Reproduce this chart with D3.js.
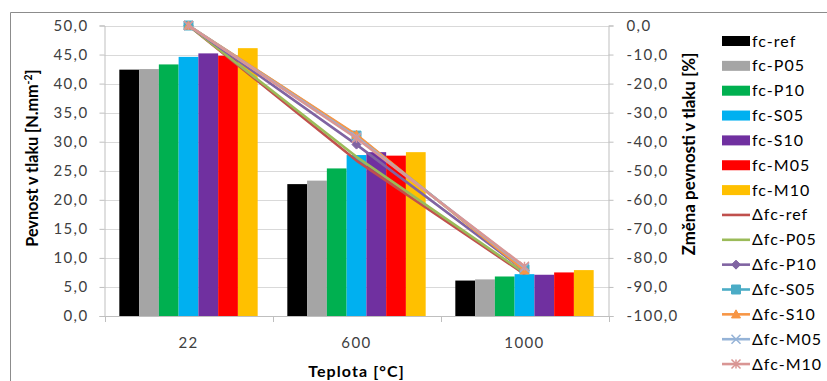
<!DOCTYPE html>
<html>
<head>
<meta charset="utf-8">
<script src="https://cdn.jsdelivr.net/npm/d3@7"></script>
<style>
  html, body { margin: 0; padding: 0; background: #fff; }
  svg { display: block; font-family: Lato, "Open Sans", sans-serif; }
</style>
</head>
<body>
<svg id="chart" width="827" height="381"></svg>
<script>
// Temperatures (categories)
const temperatures = ["22", "600", "1000"];

// Compressive strength [N.mm-2] per mix
const barSeries = ["fc-ref", "fc-P05", "fc-P10", "fc-S05", "fc-S10", "fc-M05", "fc-M10"];
const fcRef = [42.4, 22.7, 6.1];
const fcP05 = [42.5, 23.3, 6.3];
const fcP10 = [43.3, 25.4, 6.8];
const fcS05 = [44.6, 27.7, 7.2];
const fcS10 = [45.2, 28.2, 7.1];
const fcM05 = [44.8, 27.6, 7.5];
const fcM10 = [46.1, 28.2, 7.9];

// Change of compressive strength [%]
const lineSeries = ["Δfc-ref", "Δfc-P05", "Δfc-P10", "Δfc-S05", "Δfc-S10", "Δfc-M05", "Δfc-M10"];
const dRef = [0, -46.5, -85.6];
const dP05 = [0, -45.2, -85.2];
const dP10 = [0, -41.0, -84.3];
const dS05 = [0, -37.9, -83.9];
const dS10 = [0, -37.6, -84.3];
const dM05 = [0, -38.4, -83.3];
const dM10 = [0, -38.8, -82.9];

// Axis ticks
const leftTicks = [0, 5, 10, 15, 20, 25, 30, 35, 40, 45, 50];
const rightTicks = [0, -10, -20, -30, -40, -50, -60, -70, -80, -90, -100];

const barValues = [fcRef, fcP05, fcP10, fcS05, fcS10, fcM05, fcM10];
const lineValues = [dRef, dP05, dP10, dS05, dS10, dM05, dM10];
const barColors = ["#000000", "#A5A5A5", "#00B050", "#00B0F0", "#7030A0", "#FF0000", "#FFC000"];
const lineColors = ["#C0504D", "#9BBB59", "#8064A2", "#4BACC6", "#F79646", "#95B3D7", "#D99694"];
const markers = [null, null, "diamond", "square", "triangle", "x", "star"];

const svg = d3.select("#chart");
const plot = { left: 104.5, right: 608.5, top: 25.5, bottom: 316 };

const x = d3.scaleBand().domain(temperatures).range([plot.left, plot.right]).padding(0);
const xi = d3.scaleBand().domain(barSeries).range([0, x.bandwidth()]).paddingInner(0).paddingOuter(0.75);
const yL = d3.scaleLinear().domain([0, 50]).range([plot.bottom, plot.top]);
const yR = d3.scaleLinear().domain([-100, 0]).range([plot.bottom, plot.top]);
const fmt = d => d.toFixed(1).replace(".", ",");

// Outer chart frame
svg.append("path")
  .attr("d", `M10.5,381 V12.5 H827`)
  .attr("fill", "none").attr("stroke", "#8C8C8C").attr("stroke-width", 1);

// Gridlines
svg.append("g").selectAll("line").data(leftTicks).join("line")
  .attr("x1", plot.left).attr("x2", plot.right)
  .attr("y1", d => Math.round(yL(d)) + 0.5).attr("y2", d => Math.round(yL(d)) + 0.5)
  .attr("stroke", "#D9D9D9").attr("stroke-width", 1);

// Left axis
const gL = svg.append("g").attr("transform", `translate(${plot.left},0)`)
  .call(d3.axisLeft(yL).tickValues(leftTicks).tickFormat(fmt).tickSize(5).tickPadding(11));
// Right axis
const gR = svg.append("g").attr("transform", `translate(${plot.right},0)`)
  .call(d3.axisRight(yR).tickValues(rightTicks).tickFormat(fmt).tickSize(5).tickPadding(13));
[gL, gR].forEach(g => {
  g.select(".domain").attr("stroke", "#BFBFBF");
  g.selectAll(".tick line").attr("stroke", "#BFBFBF");
  g.selectAll(".tick text").attr("fill", "#404040").attr("font-size", 15)
    .attr("letter-spacing", 1.4).attr("font-family", "Lato, sans-serif");
});

// Bars
const groups = svg.append("g").selectAll("g").data(temperatures).join("g")
  .attr("transform", d => `translate(${x(d)},0)`);
groups.selectAll("rect")
  .data((t, ti) => barSeries.map((s, si) => ({ s, si, v: barValues[si][ti] })))
  .join("rect")
  .attr("x", d => xi(d.s)).attr("width", xi.bandwidth())
  .attr("y", d => yL(d.v)).attr("height", d => yL(0) - yL(d.v))
  .attr("fill", d => barColors[d.si]);

// Bottom axis
const gB = svg.append("g").attr("transform", `translate(0,${plot.bottom})`)
  .call(d3.axisBottom(x).tickSize(0).tickPadding(21));
gB.select(".domain").attr("stroke", "#BFBFBF");
gB.selectAll(".tick text").attr("fill", "#404040").attr("font-size", 15)
  .attr("letter-spacing", 1.4).attr("font-family", "Lato, sans-serif");
svg.append("g").selectAll("line").data([plot.left, x("600"), x("1000"), plot.right]).join("line")
  .attr("x1", d => Math.round(d) + 0.5).attr("x2", d => Math.round(d) + 0.5)
  .attr("y1", plot.bottom).attr("y2", plot.bottom + 6)
  .attr("stroke", "#BFBFBF");

// Marker symbols
function markerPath(type, size) {
  const h = size / 2;
  switch (type) {
    case "diamond": return `M0,${-h}L${h},0L0,${h}L${-h},0Z`;
    case "square": return `M${-h},${-h}H${h}V${h}H${-h}Z`;
    case "triangle": return `M0,${-h}L${h},${h * 0.8}L${-h},${h * 0.8}Z`;
    case "x": return `M${-h},${-h}L${h},${h}M${h},${-h}L${-h},${h}`;
    case "star": return `M${-h},${-h}L${h},${h}M${h},${-h}L${-h},${h}M0,${-h}V${h}`;
  }
  return "";
}
function drawMarker(g, type, color, size) {
  if (!type) return;
  const filled = type === "diamond" || type === "square" || type === "triangle";
  g.append("path").attr("d", markerPath(type, size))
    .attr("fill", filled ? color : "none")
    .attr("stroke", color).attr("stroke-width", filled ? 1 : 1.5);
}

// Lines
const cx = t => x(t) + x.bandwidth() / 2;
const line = d3.line().x((d, i) => cx(temperatures[i])).y(d => yR(d));
lineValues.forEach((vals, si) => {
  svg.append("path").datum(vals).attr("d", line)
    .attr("fill", "none").attr("stroke", lineColors[si]).attr("stroke-width", 2.6)
    .attr("stroke-linejoin", "round");
  vals.forEach((v, i) => {
    const g = svg.append("g").attr("transform", `translate(${cx(temperatures[i])},${yR(v)})`);
    drawMarker(g, markers[si], lineColors[si], 9);
  });
});

// Axis titles
svg.append("text")
  .attr("transform", `translate(38,158) rotate(-90)`)
  .attr("text-anchor", "middle").attr("font-size", 16.2).attr("font-weight", "bold").attr("fill", "#000")
  .call(t => {
    t.append("tspan").text("Pevnost v tlaku [N.mm");
    t.append("tspan").text("-2").attr("font-size", 10.5).attr("dy", -6);
    t.append("tspan").text("]").attr("dy", 6);
  });
svg.append("text")
  .attr("transform", `translate(695,154) rotate(-90)`)
  .attr("text-anchor", "middle").attr("font-size", 16.9).attr("font-weight", "bold").attr("fill", "#000")
  .text("Změna pevnosti v tlaku [%]");
svg.append("text")
  .attr("x", x("600") + x.bandwidth() / 2).attr("y", 377)
  .attr("text-anchor", "middle").attr("font-size", 16).attr("letter-spacing", 1.1)
  .attr("font-weight", "bold").attr("fill", "#000")
  .text("Teplota [°C]");

// Legend
const legend = svg.append("g").attr("transform", "translate(722,41)");
const rowH = 24.85;
barSeries.forEach((s, i) => {
  const g = legend.append("g").attr("transform", `translate(0,${i * rowH})`);
  g.append("rect").attr("x", 0).attr("y", -5).attr("width", 28).attr("height", 10).attr("fill", barColors[i]);
  g.append("text").attr("x", 30).attr("y", 5.5).attr("font-size", 16).attr("letter-spacing", 1)
    .attr("fill", "#000").text(s);
});
lineSeries.forEach((s, i) => {
  const g = legend.append("g").attr("transform", `translate(0,${(i + barSeries.length) * rowH})`);
  g.append("line").attr("x1", 0).attr("x2", 28).attr("y1", 0).attr("y2", 0)
    .attr("stroke", lineColors[i]).attr("stroke-width", 2.6);
  const m = g.append("g").attr("transform", "translate(14,0)");
  drawMarker(m, markers[i], lineColors[i], 9);
  g.append("text").attr("x", 30).attr("y", 5.5).attr("font-size", 16).attr("letter-spacing", 1)
    .attr("fill", "#000").text(s);
});
</script>
</body>
</html>
